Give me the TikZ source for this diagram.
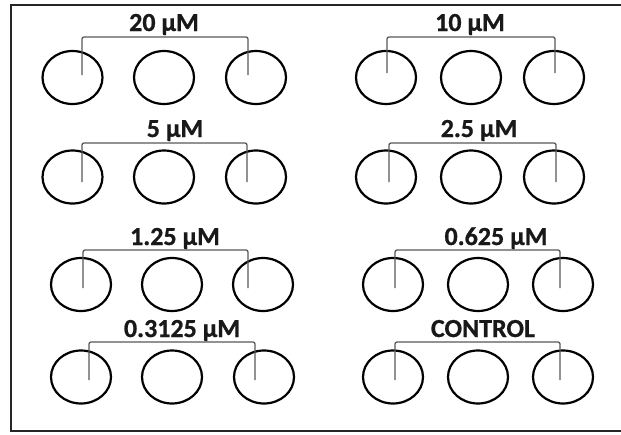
\documentclass[tikz,border=0pt]{standalone}
\usepackage{fontspec}
\setmainfont{Carlito}[BoldFeatures={FakeBold=0.8}]
\usetikzlibrary{shapes.geometric}
\begin{document}
\begin{tikzpicture}[x=1pt,y=-1pt,
  well/.style={draw=black,line width=2.2pt,ellipse,inner sep=0pt,minimum width=60pt,minimum height=53pt},
  lbl/.style={anchor=base,inner sep=0pt,font=\bfseries\fontsize{26}{29}\selectfont,text=black!90},
  bracket/.style={draw=black!65,line width=1.3pt,rounded corners=2pt},
  frame/.style={draw=black!85,line width=2pt}]
\useasboundingbox (0,0) rectangle (621,434);
\clip (0,0) rectangle (621,434);
\fill[white] (0,0) rectangle (621,434);
\coordinate (FTR) at (640,5);
\coordinate (FTL) at (11,5);
\coordinate (FBL) at (11,431);
\coordinate (FBR) at (640,431);
\draw[frame] (FTR) -- (FTL) -- (FBL) -- (FBR);
\foreach \n/\t/\lx/\ly/\xa/\xb/\xc/\cy/\by/\xl/\xr/\vb in {
  a/20 µM/164/31/72.5/164/256/77.5/37/82/248/75,
  b/5 µM/175/137/72.5/164/256/177/143/82/247/182,
  c/10 µM/470/31/386/471/554/77.5/37/387/555/73,
  d/2.5 µM/479/137/386/471/554/177/143/389/556/182,
  e/1.25 µM/175/245/81/172/263/284.5/250/83/248/288,
  f/0.3125 µM/182/337/81/172/264/377/342/89/255/380,
  g/0.625 µM/496/245/393/478/563/284.5/250/395/560/288,
  h/CONTROL/483/337/393/478/563/377/342/395/560/380}{
  \node[lbl] (L\n) at (\lx,\ly) {\t};
  \node[well] (W\n1) at (\xa,\cy) {};
  \node[well] (W\n2) at (\xb,\cy) {};
  \node[well] (W\n3) at (\xc,\cy) {};
  \coordinate (B\n l) at (\xl,\vb);
  \coordinate (B\n r) at (\xr,\vb);
  \coordinate (C\n l) at (\xl,\by);
  \coordinate (C\n r) at (\xr,\by);
  \draw[bracket] (B\n l) -- (C\n l) -- (C\n r) -- (B\n r);
}
\end{tikzpicture}
\end{document}
